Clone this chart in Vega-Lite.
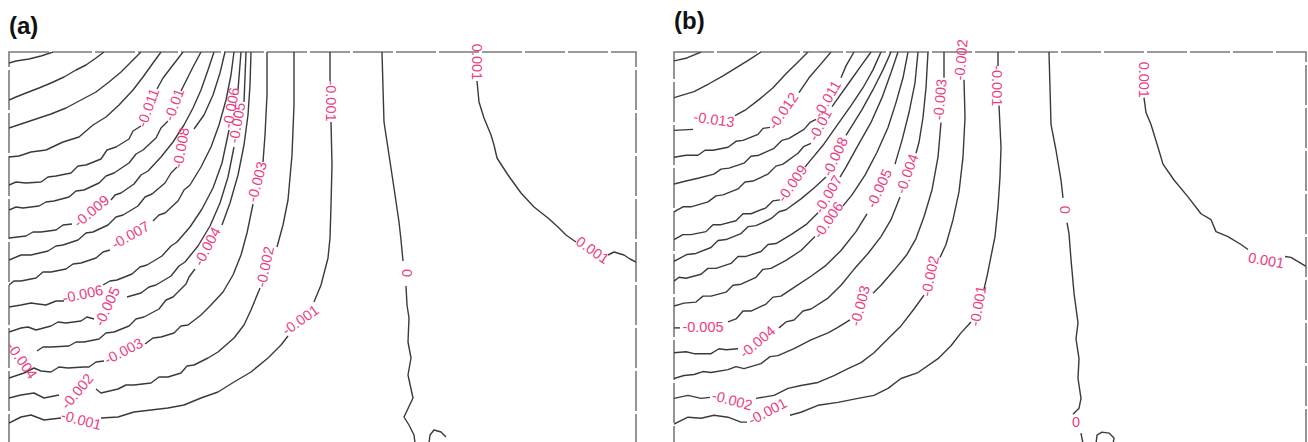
{
"$schema": "https://vega.github.io/schema/vega-lite/v6.json",
"background": "white",
"padding": {"left": 8, "top": 8, "right": 0, "bottom": 0},
"spacing": 38,
"bounds": "flush",
"config": {
"view": {"stroke": "#7a7a7a", "strokeWidth": 1.6, "strokeDash": [40, 3]},
"title": {"font": "Liberation Sans", "fontSize": 24, "fontWeight": "bold", "anchor": "start", "color": "#111111", "offset": 5}
},
"datasets": {
"la": [
{"s":"15a","x":52,"y":47},{"s":"15a","x":40,"y":51},{"s":"15a","x":28,"y":54},{"s":"15a","x":15,"y":56},{"s":"15a","x":8,"y":58},
{"s":"14a","x":103,"y":47},{"s":"14a","x":95,"y":53},{"s":"14a","x":85,"y":60},{"s":"14a","x":75,"y":65},{"s":"14a","x":63,"y":72},{"s":"14a","x":50,"y":78},{"s":"14a","x":38,"y":83},{"s":"14a","x":25,"y":88},{"s":"14a","x":15,"y":92},{"s":"14a","x":8,"y":95},
{"s":"13a","x":140,"y":47},{"s":"13a","x":130,"y":57},{"s":"13a","x":120,"y":67},{"s":"13a","x":108,"y":77},{"s":"13a","x":95,"y":87},{"s":"13a","x":80,"y":95},{"s":"13a","x":65,"y":103},{"s":"13a","x":50,"y":109},{"s":"13a","x":35,"y":114},{"s":"13a","x":20,"y":119},{"s":"13a","x":8,"y":123},
{"s":"12a","x":160,"y":47},{"s":"12a","x":152,"y":58},{"s":"12a","x":142,"y":72},{"s":"12a","x":132,"y":85},{"s":"12a","x":118,"y":100},{"s":"12a","x":105,"y":112},{"s":"12a","x":92,"y":120},{"s":"12a","x":78,"y":132},{"s":"12a","x":62,"y":137},{"s":"12a","x":45,"y":145},{"s":"12a","x":30,"y":147},{"s":"12a","x":18,"y":151},{"s":"12a","x":8,"y":152},
{"s":"11a","x":182,"y":47},{"s":"11a","x":172,"y":60},{"s":"11a","x":162,"y":73},{"s":"11a","x":156,"y":84},
{"s":"11b","x":140,"y":121},{"s":"11b","x":132,"y":126},{"s":"11b","x":128,"y":134},{"s":"11b","x":115,"y":142},{"s":"11b","x":106,"y":145},{"s":"11b","x":100,"y":154},{"s":"11b","x":85,"y":160},{"s":"11b","x":77,"y":161},{"s":"11b","x":70,"y":168},{"s":"11b","x":55,"y":171},{"s":"11b","x":47,"y":172},{"s":"11b","x":40,"y":177},{"s":"11b","x":25,"y":178},{"s":"11b","x":15,"y":177},{"s":"11b","x":8,"y":180},
{"s":"10a","x":200,"y":47},{"s":"10a","x":192,"y":62},{"s":"10a","x":184,"y":78},{"s":"10a","x":180,"y":86},
{"s":"10b","x":167,"y":116},{"s":"10b","x":160,"y":123},{"s":"10b","x":155,"y":133},{"s":"10b","x":142,"y":145},{"s":"10b","x":135,"y":149},{"s":"10b","x":128,"y":158},{"s":"10b","x":113,"y":168},{"s":"10b","x":105,"y":171},{"s":"10b","x":98,"y":178},{"s":"10b","x":83,"y":185},{"s":"10b","x":75,"y":186},{"s":"10b","x":68,"y":192},{"s":"10b","x":53,"y":196},{"s":"10b","x":45,"y":197},{"s":"10b","x":38,"y":201},{"s":"10b","x":22,"y":203},{"s":"10b","x":15,"y":202},{"s":"10b","x":8,"y":205},
{"s":"9a","x":213,"y":47},{"s":"9a","x":207,"y":65},{"s":"9a","x":200,"y":85},{"s":"9a","x":192,"y":103},{"s":"9a","x":183,"y":120},{"s":"9a","x":172,"y":137},{"s":"9a","x":160,"y":152},{"s":"9a","x":147,"y":166},{"s":"9a","x":140,"y":170},{"s":"9a","x":133,"y":179},{"s":"9a","x":120,"y":188},{"s":"9a","x":114,"y":190},{"s":"9a","x":110,"y":195},
{"s":"9b","x":71,"y":219},{"s":"9b","x":62,"y":220},{"s":"9b","x":55,"y":225},{"s":"9b","x":40,"y":227},{"s":"9b","x":32,"y":227},{"s":"9b","x":25,"y":231},{"s":"9b","x":8,"y":233},
{"s":"8a","x":224,"y":47},{"s":"8a","x":219,"y":68},{"s":"8a","x":212,"y":90},{"s":"8a","x":203,"y":110},{"s":"8a","x":193,"y":124},
{"s":"8b","x":176,"y":162},{"s":"8b","x":170,"y":168},{"s":"8b","x":164,"y":178},{"s":"8b","x":151,"y":189},{"s":"8b","x":144,"y":192},{"s":"8b","x":137,"y":201},{"s":"8b","x":122,"y":210},{"s":"8b","x":115,"y":212},{"s":"8b","x":107,"y":220},{"s":"8b","x":92,"y":227},{"s":"8b","x":85,"y":228},{"s":"8b","x":77,"y":235},{"s":"8b","x":62,"y":240},{"s":"8b","x":55,"y":241},{"s":"8b","x":47,"y":246},{"s":"8b","x":30,"y":250},{"s":"8b","x":20,"y":250},{"s":"8b","x":8,"y":255},
{"s":"7a","x":233,"y":47},{"s":"7a","x":230,"y":70},{"s":"7a","x":225,"y":95},{"s":"7a","x":218,"y":120},{"s":"7a","x":210,"y":142},{"s":"7a","x":200,"y":162},{"s":"7a","x":189,"y":180},{"s":"7a","x":183,"y":185},{"s":"7a","x":177,"y":196},{"s":"7a","x":164,"y":208},{"s":"7a","x":158,"y":210},{"s":"7a","x":152,"y":216},
{"s":"7b","x":109,"y":245},{"s":"7b","x":102,"y":247},{"s":"7b","x":95,"y":253},{"s":"7b","x":80,"y":258},{"s":"7b","x":72,"y":259},{"s":"7b","x":65,"y":264},{"s":"7b","x":50,"y":267},{"s":"7b","x":42,"y":267},{"s":"7b","x":35,"y":273},{"s":"7b","x":20,"y":276},{"s":"7b","x":13,"y":276},{"s":"7b","x":8,"y":280},
{"s":"6a","x":240,"y":47},{"s":"6a","x":237,"y":85},
{"s":"6b","x":228,"y":125},{"s":"6b","x":221,"y":158},{"s":"6b","x":212,"y":183},{"s":"6b","x":201,"y":204},{"s":"6b","x":189,"y":222},{"s":"6b","x":176,"y":237},{"s":"6b","x":170,"y":241},{"s":"6b","x":161,"y":251},{"s":"6b","x":146,"y":260},{"s":"6b","x":139,"y":262},{"s":"6b","x":131,"y":269},{"s":"6b","x":116,"y":275},{"s":"6b","x":109,"y":276},{"s":"6b","x":102,"y":280},
{"s":"6c","x":63,"y":296},{"s":"6c","x":55,"y":296},{"s":"6c","x":45,"y":300},{"s":"6c","x":37,"y":299},{"s":"6c","x":30,"y":298},{"s":"6c","x":20,"y":300},{"s":"6c","x":8,"y":302},
{"s":"5a","x":245,"y":47},{"s":"5a","x":243,"y":97},
{"s":"5b","x":233,"y":142},{"s":"5b","x":227,"y":172},{"s":"5b","x":219,"y":198},{"s":"5b","x":209,"y":221},{"s":"5b","x":197,"y":241},{"s":"5b","x":184,"y":257},{"s":"5b","x":178,"y":261},{"s":"5b","x":170,"y":271},{"s":"5b","x":155,"y":280},{"s":"5b","x":148,"y":282},{"s":"5b","x":140,"y":288},{"s":"5b","x":126,"y":292},
{"s":"5c","x":93,"y":314},{"s":"5c","x":86,"y":312},{"s":"5c","x":80,"y":316},{"s":"5c","x":65,"y":318},{"s":"5c","x":57,"y":317},{"s":"5c","x":50,"y":321},{"s":"5c","x":35,"y":325},{"s":"5c","x":27,"y":322},{"s":"5c","x":20,"y":323},{"s":"5c","x":8,"y":327},
{"s":"4a","x":250,"y":47},{"s":"4a","x":249,"y":80},{"s":"4a","x":247,"y":110},{"s":"4a","x":243,"y":140},{"s":"4a","x":237,"y":170},{"s":"4a","x":229,"y":198},{"s":"4a","x":221,"y":220},
{"s":"4b","x":194,"y":264},{"s":"4b","x":188,"y":272},{"s":"4b","x":185,"y":279},{"s":"4b","x":172,"y":292},{"s":"4b","x":165,"y":295},{"s":"4b","x":158,"y":304},{"s":"4b","x":143,"y":312},{"s":"4b","x":135,"y":314},{"s":"4b","x":128,"y":321},{"s":"4b","x":113,"y":327},{"s":"4b","x":105,"y":328},{"s":"4b","x":98,"y":334},{"s":"4b","x":83,"y":337},{"s":"4b","x":75,"y":337},{"s":"4b","x":68,"y":341},{"s":"4b","x":50,"y":342},{"s":"4b","x":42,"y":342},{"s":"4b","x":36,"y":346},
{"s":"3a","x":266,"y":47},{"s":"3a","x":266,"y":90},{"s":"3a","x":264,"y":130},{"s":"3a","x":262,"y":157},
{"s":"3b","x":252,"y":199},{"s":"3b","x":246,"y":228},{"s":"3b","x":240,"y":250},{"s":"3b","x":232,"y":270},{"s":"3b","x":222,"y":287},{"s":"3b","x":210,"y":300},{"s":"3b","x":200,"y":310},{"s":"3b","x":187,"y":320},{"s":"3b","x":180,"y":321},{"s":"3b","x":173,"y":328},{"s":"3b","x":160,"y":332},{"s":"3b","x":152,"y":333},{"s":"3b","x":144,"y":339},
{"s":"3c","x":103,"y":356},{"s":"3c","x":95,"y":357},{"s":"3c","x":88,"y":362},{"s":"3c","x":83,"y":362},{"s":"3c","x":67,"y":363},{"s":"3c","x":58,"y":362},{"s":"3c","x":50,"y":367},{"s":"3c","x":40,"y":366},{"s":"3c","x":33,"y":363},{"s":"3c","x":23,"y":368},{"s":"3c","x":8,"y":373},
{"s":"2a","x":293,"y":47},{"s":"2a","x":293,"y":100},{"s":"2a","x":291,"y":150},{"s":"2a","x":287,"y":195},{"s":"2a","x":282,"y":220},{"s":"2a","x":276,"y":242},
{"s":"2b","x":259,"y":283},{"s":"2b","x":250,"y":305},{"s":"2b","x":243,"y":320},{"s":"2b","x":233,"y":333},{"s":"2b","x":217,"y":347},{"s":"2b","x":207,"y":353},{"s":"2b","x":193,"y":360},{"s":"2b","x":186,"y":361},{"s":"2b","x":180,"y":368},{"s":"2b","x":167,"y":372},{"s":"2b","x":158,"y":372},{"s":"2b","x":150,"y":378},{"s":"2b","x":133,"y":380},{"s":"2b","x":125,"y":380},{"s":"2b","x":117,"y":384},{"s":"2b","x":100,"y":388},{"s":"2b","x":95,"y":384},
{"s":"2c","x":58,"y":390},{"s":"2c","x":43,"y":393},{"s":"2c","x":33,"y":388},{"s":"2c","x":20,"y":390},{"s":"2c","x":8,"y":393},
{"s":"1a","x":329,"y":47},{"s":"1a","x":329,"y":76},
{"s":"1b","x":330,"y":117},{"s":"1b","x":331,"y":160},{"s":"1b","x":330,"y":200},{"s":"1b","x":329,"y":233},{"s":"1b","x":327,"y":253},{"s":"1b","x":320,"y":280},{"s":"1b","x":313,"y":297},
{"s":"1c","x":287,"y":331},{"s":"1c","x":280,"y":340},{"s":"1c","x":267,"y":353},{"s":"1c","x":250,"y":367},{"s":"1c","x":233,"y":377},{"s":"1c","x":217,"y":387},{"s":"1c","x":200,"y":393},{"s":"1c","x":183,"y":400},{"s":"1c","x":167,"y":403},{"s":"1c","x":150,"y":405},{"s":"1c","x":133,"y":407},{"s":"1c","x":117,"y":412},{"s":"1c","x":100,"y":413},
{"s":"1d","x":60,"y":413},{"s":"1d","x":43,"y":415},{"s":"1d","x":30,"y":410},{"s":"1d","x":20,"y":412},{"s":"1d","x":8,"y":418},
{"s":"z1","x":381,"y":47},{"s":"z1","x":382,"y":83},{"s":"z1","x":383,"y":117},{"s":"z1","x":388,"y":150},{"s":"z1","x":393,"y":183},{"s":"z1","x":398,"y":217},{"s":"z1","x":400,"y":235},{"s":"z1","x":402,"y":256},
{"s":"z2","x":405,"y":281},{"s":"z2","x":406,"y":300},{"s":"z2","x":408,"y":313},{"s":"z2","x":407,"y":337},{"s":"z2","x":410,"y":353},{"s":"z2","x":407,"y":370},{"s":"z2","x":412,"y":393},{"s":"z2","x":403,"y":412},{"s":"z2","x":408,"y":420},{"s":"z2","x":413,"y":430},{"s":"z2","x":414,"y":438},
{"s":"zl","x":428,"y":438},{"s":"zl","x":429,"y":430},{"s":"zl","x":433,"y":425},{"s":"zl","x":440,"y":427},{"s":"zl","x":445,"y":432},
{"s":"p1","x":476,"y":76},{"s":"p1","x":478,"y":97},{"s":"p1","x":483,"y":113},{"s":"p1","x":490,"y":130},{"s":"p1","x":493,"y":140},{"s":"p1","x":496,"y":153},{"s":"p1","x":507,"y":170},{"s":"p1","x":520,"y":188},{"s":"p1","x":533,"y":202},{"s":"p1","x":547,"y":213},{"s":"p1","x":557,"y":222},{"s":"p1","x":565,"y":230},{"s":"p1","x":575,"y":237},
{"s":"p2","x":607,"y":250},{"s":"p2","x":613,"y":247},{"s":"p2","x":623,"y":250},{"s":"p2","x":629,"y":254},{"s":"p2","x":635,"y":257}
],
"lb": [
{"s":"15a","x":673,"y":53},{"s":"15a","x":686,"y":50},{"s":"15a","x":700,"y":44},
{"s":"14a","x":760,"y":44},{"s":"14a","x":748,"y":52},{"s":"14a","x":735,"y":60},{"s":"14a","x":722,"y":68},{"s":"14a","x":708,"y":76},{"s":"14a","x":693,"y":84},{"s":"14a","x":683,"y":87},{"s":"14a","x":673,"y":90},
{"s":"13a","x":807,"y":44},{"s":"13a","x":797,"y":54},{"s":"13a","x":785,"y":66},{"s":"13a","x":772,"y":80},{"s":"13a","x":758,"y":92},{"s":"13a","x":745,"y":102},{"s":"13a","x":734,"y":108},
{"s":"13b","x":692,"y":122},{"s":"13b","x":673,"y":123},
{"s":"12a","x":830,"y":44},{"s":"12a","x":820,"y":56},{"s":"12a","x":808,"y":70},{"s":"12a","x":798,"y":85},
{"s":"12b","x":769,"y":120},{"s":"12b","x":762,"y":121},{"s":"12b","x":757,"y":127},{"s":"12b","x":742,"y":133},{"s":"12b","x":735,"y":134},{"s":"12b","x":727,"y":140},{"s":"12b","x":712,"y":143},{"s":"12b","x":704,"y":143},{"s":"12b","x":697,"y":148},{"s":"12b","x":685,"y":148},{"s":"12b","x":673,"y":150},
{"s":"11a","x":853,"y":44},{"s":"11a","x":845,"y":58},{"s":"11a","x":840,"y":70},
{"s":"11b","x":815,"y":112},{"s":"11b","x":809,"y":115},{"s":"11b","x":803,"y":122},{"s":"11b","x":788,"y":131},{"s":"11b","x":781,"y":133},{"s":"11b","x":773,"y":141},{"s":"11b","x":758,"y":148},{"s":"11b","x":750,"y":149},{"s":"11b","x":743,"y":156},{"s":"11b","x":728,"y":161},{"s":"11b","x":720,"y":162},{"s":"11b","x":713,"y":167},{"s":"11b","x":698,"y":171},{"s":"11b","x":685,"y":174},{"s":"11b","x":673,"y":177},
{"s":"10a","x":870,"y":44},{"s":"10a","x":860,"y":58},{"s":"10a","x":848,"y":75},{"s":"10a","x":836,"y":92},{"s":"10a","x":831,"y":99},
{"s":"10b","x":810,"y":136},{"s":"10b","x":803,"y":139},{"s":"10b","x":797,"y":146},{"s":"10b","x":782,"y":157},{"s":"10b","x":775,"y":159},{"s":"10b","x":767,"y":167},{"s":"10b","x":752,"y":174},{"s":"10b","x":744,"y":175},{"s":"10b","x":737,"y":182},{"s":"10b","x":722,"y":188},{"s":"10b","x":715,"y":189},{"s":"10b","x":707,"y":195},{"s":"10b","x":690,"y":200},{"s":"10b","x":682,"y":200},{"s":"10b","x":673,"y":205},
{"s":"9a","x":880,"y":44},{"s":"9a","x":872,"y":62},{"s":"9a","x":862,"y":80},{"s":"9a","x":850,"y":98},{"s":"9a","x":836,"y":118},{"s":"9a","x":822,"y":138},{"s":"9a","x":808,"y":155},{"s":"9a","x":804,"y":160},
{"s":"9b","x":779,"y":193},{"s":"9b","x":772,"y":194},{"s":"9b","x":765,"y":201},{"s":"9b","x":750,"y":207},{"s":"9b","x":742,"y":207},{"s":"9b","x":735,"y":214},{"s":"9b","x":720,"y":218},{"s":"9b","x":712,"y":218},{"s":"9b","x":705,"y":225},{"s":"9b","x":690,"y":228},{"s":"9b","x":682,"y":228},{"s":"9b","x":673,"y":233},
{"s":"8a","x":890,"y":44},{"s":"8a","x":882,"y":62},{"s":"8a","x":872,"y":82},{"s":"8a","x":861,"y":102},{"s":"8a","x":850,"y":120},{"s":"8a","x":845,"y":128},
{"s":"8b","x":825,"y":170},{"s":"8b","x":813,"y":181},{"s":"8b","x":800,"y":192},{"s":"8b","x":785,"y":203},{"s":"8b","x":778,"y":205},{"s":"8b","x":770,"y":212},{"s":"8b","x":755,"y":219},{"s":"8b","x":747,"y":220},{"s":"8b","x":740,"y":227},{"s":"8b","x":725,"y":233},{"s":"8b","x":717,"y":234},{"s":"8b","x":710,"y":241},{"s":"8b","x":695,"y":247},{"s":"8b","x":686,"y":248},{"s":"8b","x":673,"y":255},
{"s":"7a","x":897,"y":44},{"s":"7a","x":890,"y":65},{"s":"7a","x":881,"y":90},{"s":"7a","x":870,"y":115},{"s":"7a","x":857,"y":138},{"s":"7a","x":845,"y":160},{"s":"7a","x":839,"y":170},
{"s":"7b","x":817,"y":206},{"s":"7b","x":805,"y":218},{"s":"7b","x":790,"y":228},{"s":"7b","x":775,"y":237},{"s":"7b","x":767,"y":238},{"s":"7b","x":760,"y":245},{"s":"7b","x":745,"y":250},{"s":"7b","x":737,"y":250},{"s":"7b","x":730,"y":257},{"s":"7b","x":715,"y":262},{"s":"7b","x":707,"y":262},{"s":"7b","x":700,"y":268},{"s":"7b","x":685,"y":272},{"s":"7b","x":678,"y":271},{"s":"7b","x":673,"y":275},
{"s":"6a","x":907,"y":44},{"s":"6a","x":902,"y":70},{"s":"6a","x":895,"y":95},{"s":"6a","x":887,"y":120},{"s":"6a","x":876,"y":145},{"s":"6a","x":864,"y":168},{"s":"6a","x":851,"y":188},{"s":"6a","x":842,"y":199},
{"s":"6b","x":814,"y":230},{"s":"6b","x":800,"y":244},{"s":"6b","x":785,"y":254},{"s":"6b","x":770,"y":262},{"s":"6b","x":762,"y":263},{"s":"6b","x":755,"y":271},{"s":"6b","x":740,"y":278},{"s":"6b","x":732,"y":279},{"s":"6b","x":725,"y":286},{"s":"6b","x":710,"y":290},{"s":"6b","x":702,"y":290},{"s":"6b","x":695,"y":296},{"s":"6b","x":683,"y":297},{"s":"6b","x":673,"y":300},
{"s":"5a","x":917,"y":44},{"s":"5a","x":914,"y":75},{"s":"5a","x":908,"y":105},{"s":"5a","x":901,"y":133},{"s":"5a","x":894,"y":157},
{"s":"5b","x":866,"y":207},{"s":"5b","x":855,"y":225},{"s":"5b","x":840,"y":244},{"s":"5b","x":825,"y":259},{"s":"5b","x":810,"y":270},{"s":"5b","x":795,"y":280},{"s":"5b","x":780,"y":290},{"s":"5b","x":772,"y":291},{"s":"5b","x":765,"y":298},{"s":"5b","x":750,"y":305},{"s":"5b","x":742,"y":305},{"s":"5b","x":735,"y":313},{"s":"5b","x":727,"y":316},
{"s":"5c","x":679,"y":322},{"s":"5c","x":673,"y":322},
{"s":"4a","x":927,"y":44},{"s":"4a","x":925,"y":80},{"s":"4a","x":922,"y":110},{"s":"4a","x":918,"y":135},{"s":"4a","x":915,"y":146},
{"s":"4b","x":899,"y":190},{"s":"4b","x":890,"y":213},{"s":"4b","x":880,"y":230},{"s":"4b","x":867,"y":247},{"s":"4b","x":853,"y":263},{"s":"4b","x":840,"y":279},{"s":"4b","x":827,"y":292},{"s":"4b","x":810,"y":303},{"s":"4b","x":802,"y":305},{"s":"4b","x":793,"y":314},{"s":"4b","x":785,"y":316},{"s":"4b","x":778,"y":322},
{"s":"4c","x":737,"y":343},{"s":"4c","x":725,"y":344},{"s":"4c","x":718,"y":343},{"s":"4c","x":710,"y":348},{"s":"4c","x":693,"y":348},{"s":"4c","x":685,"y":346},{"s":"4c","x":673,"y":347},
{"s":"3a","x":943,"y":44},{"s":"3a","x":943,"y":70},
{"s":"3b","x":940,"y":115},{"s":"3b","x":937,"y":150},{"s":"3b","x":931,"y":183},{"s":"3b","x":923,"y":210},{"s":"3b","x":915,"y":232},{"s":"3b","x":906,"y":248},{"s":"3b","x":893,"y":264},{"s":"3b","x":880,"y":279},{"s":"3b","x":872,"y":287},
{"s":"3c","x":849,"y":314},{"s":"3c","x":836,"y":322},{"s":"3c","x":827,"y":327},{"s":"3c","x":810,"y":334},{"s":"3c","x":793,"y":343},{"s":"3c","x":777,"y":350},{"s":"3c","x":769,"y":351},{"s":"3c","x":760,"y":358},{"s":"3c","x":743,"y":363},{"s":"3c","x":735,"y":361},{"s":"3c","x":727,"y":364},{"s":"3c","x":710,"y":367},{"s":"3c","x":702,"y":366},{"s":"3c","x":693,"y":369},{"s":"3c","x":683,"y":370},{"s":"3c","x":673,"y":373},
{"s":"2a","x":963,"y":72},{"s":"2a","x":964,"y":110},{"s":"2a","x":962,"y":150},{"s":"2a","x":958,"y":185},{"s":"2a","x":952,"y":213},{"s":"2a","x":945,"y":238},{"s":"2a","x":939,"y":251},
{"s":"2b","x":923,"y":289},{"s":"2b","x":913,"y":303},{"s":"2b","x":900,"y":320},{"s":"2b","x":887,"y":333},{"s":"2b","x":873,"y":347},{"s":"2b","x":860,"y":357},{"s":"2b","x":847,"y":363},{"s":"2b","x":833,"y":370},{"s":"2b","x":817,"y":377},{"s":"2b","x":800,"y":380},{"s":"2b","x":787,"y":383},{"s":"2b","x":773,"y":390},{"s":"2b","x":755,"y":393},
{"s":"2c","x":709,"y":392},{"s":"2c","x":700,"y":393},{"s":"2c","x":687,"y":390},{"s":"2c","x":673,"y":393},
{"s":"1a","x":997,"y":44},{"s":"1a","x":997,"y":58},
{"s":"1b","x":998,"y":98},{"s":"1b","x":1000,"y":140},{"s":"1b","x":999,"y":170},{"s":"1b","x":997,"y":200},{"s":"1b","x":994,"y":230},{"s":"1b","x":990,"y":250},{"s":"1b","x":986,"y":270},{"s":"1b","x":983,"y":283},
{"s":"1c","x":970,"y":316},{"s":"1c","x":960,"y":327},{"s":"1c","x":950,"y":340},{"s":"1c","x":937,"y":353},{"s":"1c","x":917,"y":367},{"s":"1c","x":900,"y":373},{"s":"1c","x":887,"y":383},{"s":"1c","x":873,"y":390},{"s":"1c","x":857,"y":393},{"s":"1c","x":837,"y":397},{"s":"1c","x":817,"y":400},{"s":"1c","x":800,"y":407},{"s":"1c","x":789,"y":410},
{"s":"1d","x":746,"y":417},{"s":"1d","x":740,"y":417},{"s":"1d","x":727,"y":412},{"s":"1d","x":713,"y":410},{"s":"1d","x":700,"y":413},{"s":"1d","x":687,"y":412},{"s":"1d","x":673,"y":419},
{"s":"z1","x":1048,"y":44},{"s":"z1","x":1049,"y":80},{"s":"z1","x":1050,"y":117},{"s":"z1","x":1055,"y":143},{"s":"z1","x":1060,"y":173},{"s":"z1","x":1062,"y":191},
{"s":"z2","x":1066,"y":216},{"s":"z2","x":1068,"y":227},{"s":"z2","x":1070,"y":253},{"s":"z2","x":1073,"y":287},{"s":"z2","x":1077,"y":317},{"s":"z2","x":1075,"y":333},{"s":"z2","x":1078,"y":353},{"s":"z2","x":1077,"y":373},{"s":"z2","x":1080,"y":393},{"s":"z2","x":1078,"y":403},{"s":"z2","x":1072,"y":409},
{"s":"z3","x":1080,"y":428},{"s":"z3","x":1082,"y":439},
{"s":"zl","x":1095,"y":439},{"s":"zl","x":1096,"y":430},{"s":"zl","x":1101,"y":427},{"s":"zl","x":1108,"y":428},{"s":"zl","x":1113,"y":433},{"s":"zl","x":1112,"y":439},
{"s":"p1","x":1143,"y":90},{"s":"p1","x":1145,"y":105},{"s":"p1","x":1150,"y":117},{"s":"p1","x":1157,"y":140},{"s":"p1","x":1162,"y":157},{"s":"p1","x":1173,"y":173},{"s":"p1","x":1187,"y":190},{"s":"p1","x":1200,"y":207},{"s":"p1","x":1210,"y":213},{"s":"p1","x":1215,"y":225},{"s":"p1","x":1227,"y":230},{"s":"p1","x":1240,"y":238},{"s":"p1","x":1247,"y":243},
{"s":"p2","x":1284,"y":250},{"s":"p2","x":1290,"y":251},{"s":"p2","x":1300,"y":257},{"s":"p2","x":1305,"y":260}
],
"ta": [
{"t":"-0.011","x":148,"y":103,"r":-70},
{"t":"-0.01","x":174,"y":100,"r":-70},
{"t":"-0.008","x":181,"y":143,"r":-80},
{"t":"-0.006","x":231,"y":103,"r":-80},
{"t":"-0.005","x":237,"y":118,"r":-80},
{"t":"-0.003","x":257,"y":177,"r":-75},
{"t":"-0.009","x":91,"y":207,"r":-40},
{"t":"-0.007","x":130,"y":231,"r":-30},
{"t":"-0.004","x":207,"y":242,"r":-62},
{"t":"-0.002","x":265,"y":262,"r":-78},
{"t":"-0.001","x":300,"y":316,"r":-35},
{"t":"0","x":405,"y":268,"r":90},
{"t":"0.001","x":591,"y":246,"r":35},
{"t":"-0.006","x":82,"y":290,"r":-12},
{"t":"-0.005","x":107,"y":302,"r":-65},
{"t":"-0.003","x":123,"y":347,"r":-27},
{"t":"-0.002","x":77,"y":387,"r":-50},
{"t":"-0.001","x":80,"y":416,"r":15},
{"t":"-0.001","x":329,"y":96,"r":90},
{"t":"0.001","x":475,"y":57,"r":90}
],
"tb": [
{"t":"-0.013","x":713,"y":113,"r":8},
{"t":"-0.012","x":783,"y":104,"r":-55},
{"t":"-0.011","x":827,"y":92,"r":-60},
{"t":"-0.01","x":820,"y":118,"r":-62},
{"t":"-0.009","x":792,"y":177,"r":-55},
{"t":"-0.008","x":835,"y":150,"r":-65},
{"t":"-0.007","x":828,"y":188,"r":-60},
{"t":"-0.006","x":828,"y":214,"r":-55},
{"t":"-0.005","x":879,"y":182,"r":-65},
{"t":"-0.004","x":907,"y":167,"r":-70},
{"t":"-0.003","x":940,"y":92,"r":-85},
{"t":"-0.002","x":961,"y":52,"r":-85},
{"t":"-0.001","x":995,"y":78,"r":90},
{"t":"0.001","x":1142,"y":72,"r":90},
{"t":"0","x":1063,"y":203,"r":90},
{"t":"0.001","x":1265,"y":255,"r":10},
{"t":"0","x":1075,"y":418,"r":0},
{"t":"-0.005","x":702,"y":322,"r":0},
{"t":"-0.004","x":757,"y":337,"r":-40},
{"t":"-0.003","x":860,"y":300,"r":-75},
{"t":"-0.002","x":930,"y":270,"r":-78},
{"t":"-0.001","x":978,"y":300,"r":-80},
{"t":"-0.002","x":731,"y":396,"r":15},
{"t":"-0.001","x":767,"y":407,"r":-28}
]
},
"hconcat": [
{
"title": "(a)",
"width": 627,
"height": 391,
"encoding": {
"x": {"field": "x", "type": "quantitative", "scale": {"domain": [8, 635], "nice": false, "zero": false}, "axis": null},
"y": {"field": "y", "type": "quantitative", "scale": {"domain": [47, 438], "reverse": true, "nice": false, "zero": false}, "axis": null}
},
"layer": [
{"data": {"name": "la"}, "mark": {"type": "line", "color": "#3a3a3a", "strokeWidth": 1.4, "strokeJoin": "round", "clip": true},
 "encoding": {"detail": {"field": "s"}, "order": {"value": null}}},
{"data": {"name": "ta"}, "mark": {"type": "text", "font": "Liberation Sans", "fontSize": 14.5, "color": "#EC3D84", "align": "center", "baseline": "middle"},
 "encoding": {"text": {"field": "t"}, "angle": {"field": "r", "type": "quantitative", "scale": null}}},
{"data": {"values": [{"t": "-0.004", "x": 20, "y": 356, "r": 55}]}, "mark": {"type": "text", "font": "Liberation Sans", "fontSize": 14.5, "color": "#EC3D84", "align": "center", "baseline": "middle", "clip": true},
 "encoding": {"text": {"field": "t"}, "angle": {"field": "r", "type": "quantitative", "scale": null}}}
]
},
{
"title": "(b)",
"width": 632,
"height": 392,
"encoding": {
"x": {"field": "x", "type": "quantitative", "scale": {"domain": [673, 1305], "nice": false, "zero": false}, "axis": null},
"y": {"field": "y", "type": "quantitative", "scale": {"domain": [44, 439], "reverse": true, "nice": false, "zero": false}, "axis": null}
},
"layer": [
{"data": {"name": "lb"}, "mark": {"type": "line", "color": "#3a3a3a", "strokeWidth": 1.4, "strokeJoin": "round", "clip": true},
 "encoding": {"detail": {"field": "s"}, "order": {"value": null}}},
{"data": {"name": "tb"}, "mark": {"type": "text", "font": "Liberation Sans", "fontSize": 14.5, "color": "#EC3D84", "align": "center", "baseline": "middle"},
 "encoding": {"text": {"field": "t"}, "angle": {"field": "r", "type": "quantitative", "scale": null}}}
]
}
]
}
